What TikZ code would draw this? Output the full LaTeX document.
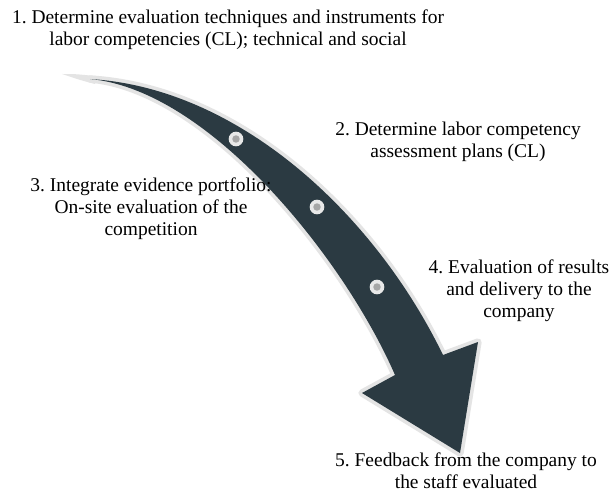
\documentclass[tikz,border=0pt]{standalone}
\usepackage{fontspec}
\setmainfont{Liberation Serif}
\definecolor{arrowdark}{HTML}{2B3A42}
\definecolor{halo}{HTML}{E4E4E4}
\definecolor{dotring}{HTML}{E8E8E8}
\definecolor{dotcore}{HTML}{A6A6A6}
\begin{document}
\frenchspacing
\begin{tikzpicture}[x=0.75pt,y=-0.75pt,
  steplabel/.style={align=center,inner sep=0pt,font=\fontsize{14.6}{16.5}\selectfont,text=black},
  stepdot/.style={circle,fill=dotring,minimum size=11pt,inner sep=0pt,
    path picture={\fill[dotcore] (path picture bounding box.center) circle (2.8pt);}}]
\useasboundingbox (0,0) rectangle (614,492);
\fill[white] (0,0) rectangle (614,492);

% curved arrow: light rim first, then the dark body
\def\arrowbody{(90,79) .. controls (240,88) and (375,215) .. (443,355)
  -- (478,342) -- (460,453) -- (362,393) -- (395,375)
  .. controls (345,260) and (210,90) .. (90,79) -- cycle}
\fill[halo] (62,74) .. controls (75,74) .. (95,76) -- (95,84) .. controls (80,80) .. (62,74) -- cycle;
\draw[halo,line width=5.5pt,line join=round] \arrowbody;
\fill[arrowdark] \arrowbody;

% markers along the shaft
\node[stepdot] (d1) at (236,139) {};
\node[stepdot] (d2) at (317,207) {};
\node[stepdot] (d3) at (377,287) {};

% step labels
\node[steplabel] (s1) at (228,30) {1. Determine evaluation techniques and instruments for\\labor competencies (CL); technical and social};
\node[steplabel] (s2) at (458,142) {2. Determine labor competency\\assessment plans (CL)};
\node[steplabel] (s3) at (151,209) {3. Integrate evidence portfolio:\\On-site evaluation of the\\competition};
\node[steplabel] (s4) at (519,291) {4. Evaluation of results\\and delivery to the\\company};
\node[steplabel] (s5) at (466,471) {5. Feedback from the company to\\the staff evaluated};
\end{tikzpicture}
\end{document}
